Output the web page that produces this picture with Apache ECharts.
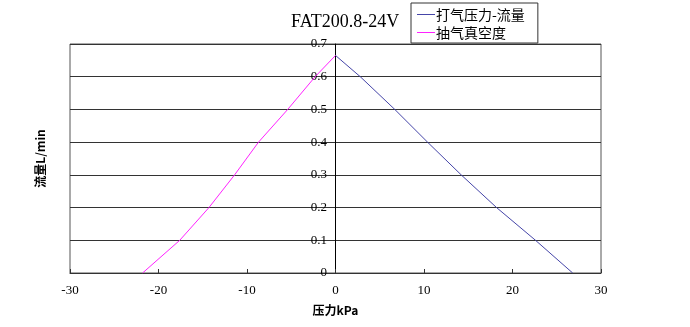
<!DOCTYPE html>
<html>
<head>
<meta charset="utf-8">
<script src="https://cdn.jsdelivr.net/npm/echarts@6/dist/echarts.min.js"></script>
<style>
    html, body { margin: 0; padding: 0; background: #fff; }
    .Flow-Chart { width: 690px; height: 327px; }
</style>
</head>
<body>
<div class="Flow-Chart"></div>
<script>
// 打气 (blow) side
var blowPressure = [0, 2.8, 6.7, 10.4, 14.2, 18.2, 22.6, 26.8];
var blowFlow = [0.665, 0.6, 0.5, 0.4, 0.3, 0.2, 0.1, 0];
// 抽气 (vacuum) side
var suckPressure = [-21.8, -17.6, -14.3, -11.4, -8.7, -5.4, -2.3, 0];
var suckFlow = [0, 0.1, 0.2, 0.3, 0.4, 0.5, 0.6, 0.665];

var seriesNames = ['打气压力-流量', '抽气真空度'];
var xTicks = [-30, -20, -10, 0, 10, 20, 30];
var yTicks = [0, 0.1, 0.2, 0.3, 0.4, 0.5, 0.6, 0.7];

function pairUp(xs, ys) {
    return xs.map(function (x, i) { return [x, ys[i]]; });
}

window.FlowChart = function () {
    var chartDom = document.querySelector('.Flow-Chart');
    window.myChart = echarts.init(chartDom);
    var option;

    var labelFont = "'Liberation Serif', 'DejaVu Serif', serif";
    var cjkFont = "'Noto Sans CJK SC', sans-serif";

    option = {
        animation: false,
        backgroundColor: '#fff',
        title: {
            text: 'FAT200.8-24V',
            left: 286,
            top: 8,
            textStyle: {
                fontFamily: labelFont,
                fontSize: 18,
                fontWeight: 'normal',
                color: '#000'
            }
        },
        legend: {
            data: seriesNames,
            orient: 'vertical',
            left: 411,
            top: 3,
            padding: [3, 13, 2, 6],
            itemGap: 1,
            itemWidth: 18,
            itemHeight: 1,
            icon: 'rect',
            borderColor: '#333',
            borderWidth: 1,
            textStyle: {
                fontFamily: cjkFont,
                fontSize: 14,
                lineHeight: 17,
                color: '#000',
                padding: [0, 0, 0, -4]
            }
        },
        grid: {
            show: true,
            left: 70,
            right: 89,
            top: 44,
            bottom: 54,
            borderColor: '#555',
            borderWidth: 1
        },
        xAxis: {
            type: 'value',
            min: xTicks[0],
            max: xTicks[xTicks.length - 1],
            interval: 10,
            name: '压力kPa',
            nameLocation: 'middle',
            nameGap: 31,
            nameTextStyle: {
                fontFamily: cjkFont,
                fontSize: 12,
                fontWeight: 'bold',
                color: '#000'
            },
            axisLine: { onZero: false, lineStyle: { color: '#333' } },
            axisTick: { inside: true, length: 4, lineStyle: { color: '#333' } },
            splitLine: { show: false },
            axisLabel: {
                margin: 11,
                fontFamily: labelFont,
                fontSize: 13,
                color: '#000'
            }
        },
        yAxis: {
            type: 'value',
            min: yTicks[0],
            max: yTicks[yTicks.length - 1],
            interval: 0.1,
            name: '流量L/min',
            nameLocation: 'middle',
            nameRotate: 90,
            nameGap: 24,
            nameTextStyle: {
                fontFamily: cjkFont,
                fontSize: 12,
                fontWeight: 'bold',
                color: '#000'
            },
            axisLine: { show: true, onZero: true, lineStyle: { color: '#000' } },
            axisTick: { show: false },
            splitLine: { show: true, lineStyle: { color: '#333', width: 1 } },
            // labels sit just left of the zero line, like the original
            axisLabel: {
                inside: true,
                margin: 257,
                align: 'right',
                fontFamily: labelFont,
                fontSize: 13,
                color: '#000'
            }
        },
        series: [
            {
                name: seriesNames[0],
                type: 'line',
                symbol: 'none',
                color: '#4545a8',
                lineStyle: { width: 1 },
                data: pairUp(blowPressure, blowFlow)
            },
            {
                name: seriesNames[1],
                type: 'line',
                symbol: 'none',
                color: '#ff22ff',
                lineStyle: { width: 1 },
                data: pairUp(suckPressure, suckFlow)
            }
        ]
    };

    option && myChart.setOption(option);
}

window.FlowChart();
</script>
</body>
</html>
